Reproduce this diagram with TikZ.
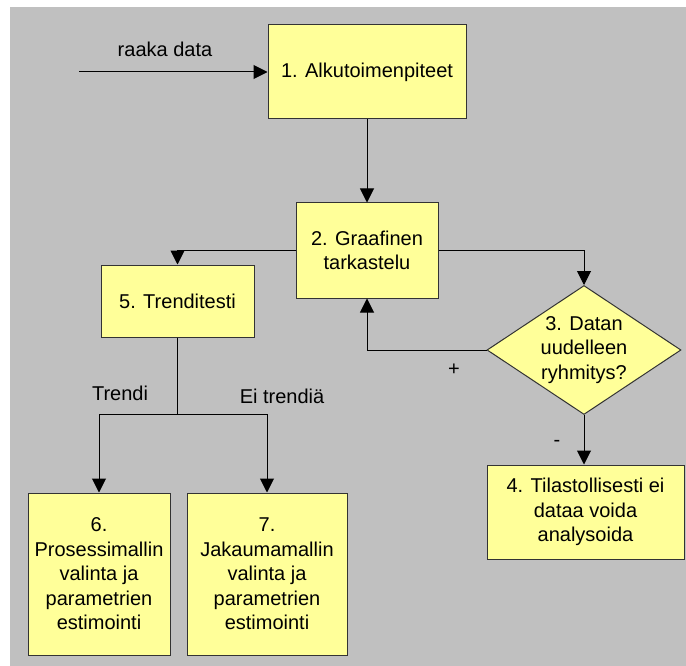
\documentclass[tikz,border=0pt]{standalone}
\usepackage{fontspec}
\setmainfont{Liberation Sans}
\usetikzlibrary{arrows.meta,shapes.geometric}
\definecolor{bggray}{HTML}{C0C0C0}
\definecolor{boxfill}{HTML}{FFFF99}
\definecolor{boxline}{HTML}{333333}
\tikzset{
  every node/.style={font=\fontsize{20}{24.5}\selectfont, text=black},
  stepbox/.style={draw=boxline, fill=boxfill, line width=1pt, rectangle, inner sep=0pt, align=center},
  decision/.style={draw=boxline, fill=boxfill, line width=1pt, diamond, aspect=1.5, inner sep=0pt, align=center, minimum width=194pt, minimum height=129pt},
  arr/.style={line width=1pt, -{Triangle[width=14pt,length=14pt]}},
  plain/.style={line width=1pt},
  lbl/.style={inner sep=0pt}
}
\begin{document}
\begin{tikzpicture}[x=1pt,y=-1pt]
\useasboundingbox (0,0) rectangle (686,666);
\fill[bggray] (10,7) rectangle (686,666);
\node[stepbox, minimum width=198pt, minimum height=94pt] (b1) at (367,72) {1. Alkutoimenpiteet};
\node[stepbox, minimum width=142pt, minimum height=95pt] (b2) at (367,250.5) {2. Graafinen\\tarkastelu};
\node[decision] (d) at (584,350) {3. Datan\\uudelleen\\ryhmitys?};
\node[stepbox, minimum width=197pt, minimum height=94pt] (b4) at (585.5,512) {4. Tilastollisesti ei\\dataa voida\\analysoida};
\node[stepbox, minimum width=153pt, minimum height=72pt] (b5) at (177.5,301) {5. Trenditesti};
\node[stepbox, minimum width=142pt, minimum height=162pt] (b6) at (99,574) {6.\\Prosessimallin\\valinta ja\\parametrien\\estimointi};
\node[stepbox, minimum width=160pt, minimum height=162pt] (b7) at (267,574) {7.\\Jakaumamallin\\valinta ja\\parametrien\\estimointi};
\coordinate (raw) at (79,72);
\coordinate (j) at (177.5,414);
\node[lbl] (lraw) at (165,49) {raaka data};
\node[lbl] (ltr) at (120,393) {Trendi};
\node[lbl] (lnotr) at (282,396) {Ei trendiä};
\node[lbl] (lplus) at (454,370) {+};
\node[lbl] (lminus) at (557,443) {-};
\draw[arr] (raw) -- (b1.west);
\draw[arr] (b1.south) -- (b2.north);
\draw[arr] (b2.west) -| (b5.north);
\draw[arr] (b2.east) -| (d.north);
\draw[arr] (d.west) -| (b2.south);
\draw[arr] (d.south) -- (d.south |- b4.north);
\draw[plain] (b5.south) -- (j);
\draw[arr] (j) -| (b6.north);
\draw[arr] (j) -| (b7.north);
\end{tikzpicture}
\end{document}
